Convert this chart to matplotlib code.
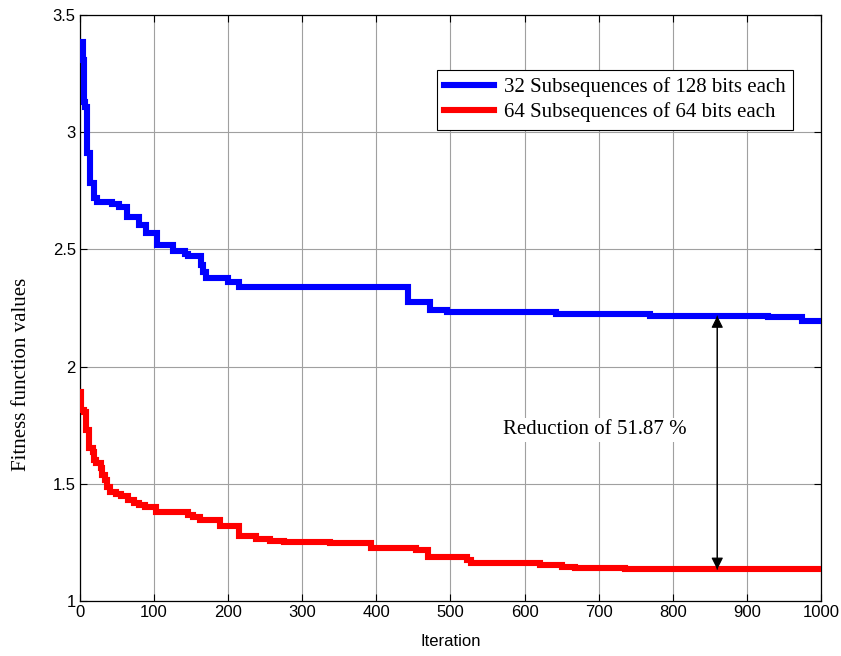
import matplotlib
matplotlib.use("Agg")
import matplotlib.pyplot as plt

# Fitness per iteration, stored as step breakpoints (iteration, value)
blue_iter = [0, 4, 5, 7, 9, 10, 14, 19, 23, 43, 52, 64, 79, 89, 104, 126, 142, 146,
             163, 166, 170, 173, 200, 214, 443, 472, 495, 643, 769, 929, 974, 1000]
blue_vals = [3.386, 3.308, 3.13, 3.109, 2.954, 2.911, 2.785, 2.72, 2.703, 2.692, 2.68,
             2.64, 2.604, 2.569, 2.519, 2.495, 2.48, 2.472, 2.433, 2.405, 2.377, 2.377,
             2.362, 2.341, 2.277, 2.241, 2.233, 2.223, 2.216, 2.21, 2.196, 2.196]

red_iter = [0, 1, 6, 8, 12, 17, 19, 22, 28, 30, 34, 37, 41, 48, 55, 65, 73, 80, 88,
            103, 146, 153, 162, 189, 215, 238, 256, 275, 337, 393, 454, 470, 522, 528,
            621, 650, 668, 735, 1000]
red_vals = [1.890, 1.815, 1.808, 1.73, 1.651, 1.637, 1.60, 1.587, 1.566, 1.538, 1.516,
            1.488, 1.466, 1.456, 1.449, 1.431, 1.419, 1.41, 1.40, 1.381, 1.367, 1.357,
            1.346, 1.321, 1.279, 1.264, 1.257, 1.253, 1.249, 1.227, 1.218, 1.186, 1.175,
            1.163, 1.154, 1.146, 1.139, 1.135, 1.135]

series_labels = ["32 Subsequences of 128 bits each", "64 Subsequences of 64 bits each"]
x_ticks = list(range(0, 1001, 100))
y_ticks = [1, 1.5, 2, 2.5, 3, 3.5]
y_tick_labels = ["1", "1.5", "2", "2.5", "3", "3.5"]

arrow_iter = 860
annotation_text = "Reduction of 51.87 %"

serif = ["Liberation Serif", "DejaVu Serif"]
sans = ["Liberation Sans", "DejaVu Sans"]

fig = plt.figure(figsize=(8.41, 6.56), dpi=100)
ax = fig.add_axes([0.0951, 0.0838, 0.8811, 0.8933])

ax.step(blue_iter, blue_vals, where="post", color="#0000ff", lw=4.4,
        label=series_labels[0], solid_joinstyle="miter", zorder=3)
ax.step(red_iter, red_vals, where="post", color="#ff0000", lw=4.4,
        label=series_labels[1], solid_joinstyle="miter", zorder=3)

ax.set_xlim(0, 1000)
ax.set_ylim(1, 3.5)
ax.set_xticks(x_ticks)
ax.set_yticks(y_ticks)
ax.set_yticklabels(y_tick_labels)
ax.grid(True, color="#a0a0a0", lw=0.8)
ax.set_axisbelow(True)
ax.tick_params(direction="in", top=True, right=True, length=5, width=0.8,
               labelsize=12, pad=3)
for lab in ax.get_xticklabels() + ax.get_yticklabels():
    lab.set_family(sans)
for s in ax.spines.values():
    s.set_linewidth(0.9)

ax.set_xlabel("Iteration", family=sans, fontsize=12, labelpad=10)
ax.set_ylabel("Fitness function values", family=serif, fontsize=15)
ax.yaxis.set_label_coords(-0.066, 0.386)

leg = ax.legend(loc="upper right", bbox_to_anchor=(0.962, 0.906), borderaxespad=0,
                fancybox=False, framealpha=1, edgecolor="black",
                prop={"family": serif, "size": 15}, handlelength=2.4,
                handletextpad=0.45, borderpad=0.35, labelspacing=0.25)
leg.get_frame().set_linewidth(0.8)

# Double-headed arrow between the final plateaus
blue_at = [v for i, v in zip(blue_iter, blue_vals) if i <= arrow_iter][-1]
red_at = [v for i, v in zip(red_iter, red_vals) if i <= arrow_iter][-1]
ax.annotate("", xy=(arrow_iter, blue_at), xytext=(arrow_iter, red_at),
            arrowprops=dict(arrowstyle="-|>", color="black", lw=0.8,
                            mutation_scale=18, shrinkA=0, shrinkB=0), zorder=4)
ax.annotate("", xy=(arrow_iter, red_at), xytext=(arrow_iter, blue_at),
            arrowprops=dict(arrowstyle="-|>", color="black", lw=0.8,
                            mutation_scale=18, shrinkA=0, shrinkB=0), zorder=4)
ax.text(695, 1.73, annotation_text, family=serif, fontsize=15, ha="center",
        va="center", bbox=dict(facecolor="white", edgecolor="none", pad=2), zorder=5)

fig.savefig("out.png", dpi=100)
